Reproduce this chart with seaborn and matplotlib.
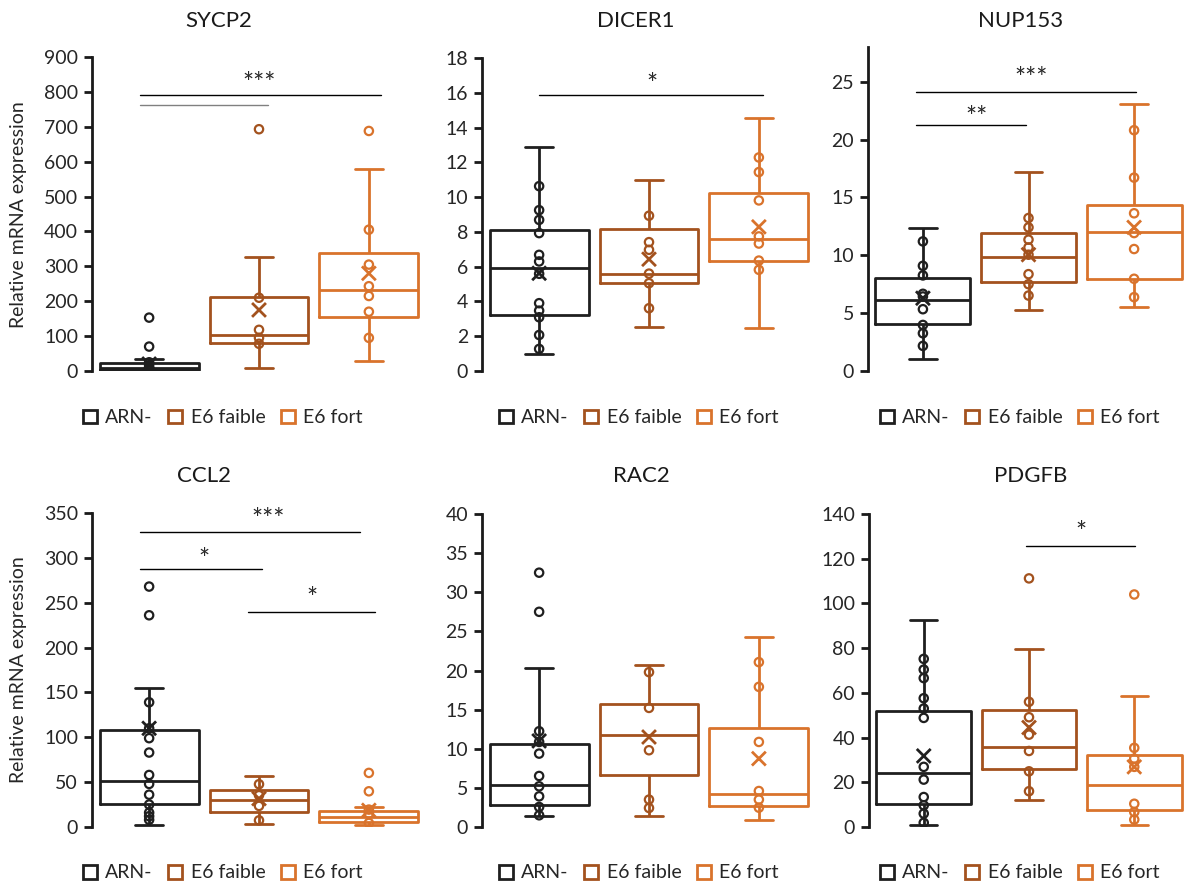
import numpy as np
import pandas as pd
import matplotlib
matplotlib.use('Agg')
import matplotlib.pyplot as plt
from matplotlib.patches import Patch
import seaborn as sns

sns.set_style('white')
plt.rcParams['font.family'] = ['Lato', 'DejaVu Sans']

groups = ['ARN-', 'E6 faible', 'E6 fort']
colors = ['#1f1f1f', '#a3521e', '#d9732c']

# box summaries: whisker low, q1, median, q3, whisker high
sycp2_box = [[1, 4, 10, 22, 33], [10, 79, 102, 211, 326], [30, 154, 232, 339, 579]]
sycp2_mean = [20, 175, 280]
sycp2_pts = [[153, 70, 25, 15, 8, 3, 1],
             [693, 210, 118, 95, 78],
             [688, 405, 305, 243, 215, 170, 95]]

dicer1_box = [[1.0, 3.2, 5.9, 8.08, 12.88], [2.53, 5.05, 5.6, 8.16, 10.96], [2.5, 6.3, 7.6, 10.23, 14.53]]
dicer1_mean = [5.62, 6.43, 8.29]
dicer1_pts = [[10.63, 9.25, 8.69, 7.93, 6.68, 6.3, 5.59, 3.9, 3.47, 3.09, 2.07, 1.27],
              [8.93, 7.41, 6.97, 5.6, 5.05, 3.61],
              [12.28, 11.44, 9.81, 7.74, 7.33, 6.35, 5.82]]

nup153_box = [[1.01, 4.07, 6.15, 8.03, 12.36], [5.23, 7.68, 9.87, 11.92, 17.18], [5.57, 7.97, 12.01, 14.35, 23.04]]
nup153_mean = [6.29, 10.05, 12.41]
nup153_pts = [[11.2, 9.09, 8.26, 6.67, 6.44, 5.34, 3.98, 3.26, 2.17],
              [13.22, 12.41, 11.35, 10.68, 10.05, 8.37, 7.5, 6.52],
              [20.81, 16.71, 13.63, 11.92, 10.54, 7.97, 6.38]]

ccl2_box = [[1.9, 26, 51, 108, 154.5], [3.7, 16.8, 29.8, 41, 57], [1.9, 5.6, 11.2, 17.9, 22.3]]
ccl2_mean = [110, 31.6, 18.6]
ccl2_pts = [[268, 236, 139, 110, 99, 83, 58, 48, 36, 25, 16, 12, 8],
            [47.7, 35.4, 23.5, 7.4],
            [60.3, 39.8, 19.4, 14.9, 4.5]]

rac2_box = [[1.41, 2.77, 5.33, 10.58, 20.38], [1.41, 6.7, 11.81, 15.78, 20.68], [0.94, 2.69, 4.26, 12.66, 24.3]]
rac2_mean = [11.0, 11.5, 8.74]
rac2_pts = [[32.5, 27.5, 12.24, 10.87, 9.38, 6.52, 5.2, 3.92, 2.56, 1.5],
            [19.79, 15.22, 9.81, 3.5, 2.43],
            [21.07, 17.91, 10.87, 4.6, 3.5, 2.47]]

pdgfb_box = [[1.04, 10.4, 24.2, 51.9, 92.8], [11.9, 26.1, 35.8, 52.2, 79.6], [1.04, 7.46, 18.66, 32.4, 58.8]]
pdgfb_mean = [31.8, 44.5, 26.9]
pdgfb_pts = [[75.2, 70.4, 66.6, 57.6, 53, 48.8, 26.9, 21.2, 13.4, 9.7, 6, 1.9],
             [111.2, 56, 49.1, 41.3, 34, 24.9, 16],
             [104, 35.4, 30.6, 26.9, 10.4, 6.7, 3.3]]

genes = ['SYCP2', 'DICER1', 'NUP153', 'CCL2', 'RAC2', 'PDGFB']
boxes = [sycp2_box, dicer1_box, nup153_box, ccl2_box, rac2_box, pdgfb_box]
means = [sycp2_mean, dicer1_mean, nup153_mean, ccl2_mean, rac2_mean, pdgfb_mean]
points = [sycp2_pts, dicer1_pts, nup153_pts, ccl2_pts, rac2_pts, pdgfb_pts]
ymax = [900, 18, 28, 350, 40, 140]
ystep = [100, 2, 5, 50, 5, 20]

# significance bars: (x start, x end, y, colour) and star labels (x, y, text)
sig_lines = [
    [(-0.08, 2.11, 791, 'black'), (-0.08, 1.08, 762, 'grey')],
    [(0.0, 2.04, 15.87, 'black')],
    [(-0.07, 2.02, 24.1, 'black'), (-0.07, 0.98, 21.3, 'black')],
    [(-0.08, 1.92, 329, 'black'), (-0.08, 1.03, 287.6, 'black'), (0.9, 2.06, 239.7, 'black')],
    [],
    [(0.97, 2.01, 125.7, 'black')],
]
sig_text = [
    [(1.0, 840, '***')],
    [(1.03, 16.8, '*')],
    [(1.02, 25.8, '***'), (0.51, 22.4, '**')],
    [(1.08, 350, '***'), (0.5, 305, '*'), (1.48, 261, '*')],
    [],
    [(1.49, 134.6, '*')],
]

W, H = 1189, 885
fig = plt.figure(figsize=(W / 100, H / 100), dpi=100)

# axes boxes in pixels: left, top, right, bottom
ax_px = [(92, 57, 426, 371), (482, 58, 816, 371), (868, 47, 1189, 371),
         (92, 513, 426, 827), (482, 514, 816, 827), (869, 514, 1189, 827)]
title_px = [(219, 21), (636, 21), (1021, 21), (204, 476), (641, 476), (1031, 476)]
legend_px = [(223, 418), (639, 418), (1020, 418), (223, 873), (639, 873), (1020, 873)]

for i, gene in enumerate(genes):
    l, t, r, b = ax_px[i]
    ax = fig.add_axes([l / W, 1 - b / H, (r - l) / W, (b - t) / H])

    box_df = pd.DataFrame([(g, v) for g, vals in zip(groups, boxes[i]) for v in vals],
                          columns=['group', 'value'])
    pts_df = pd.DataFrame([(g, v) for g, vals in zip(groups, points[i]) for v in vals],
                          columns=['group', 'value'])
    mean_df = pd.DataFrame({'group': groups, 'value': means[i]})

    sns.boxplot(data=box_df, x='group', y='value', hue='group', order=groups,
                hue_order=groups, palette=colors, fill=False, whis=np.inf,
                width=0.9, linewidth=2, legend=False, ax=ax, capwidths=0.26)

    n0 = len(ax.collections)
    sns.stripplot(data=pts_df, x='group', y='value', hue='group', order=groups,
                  hue_order=groups, palette=colors, jitter=False, size=6,
                  linewidth=1.6, legend=False, ax=ax)
    sns.stripplot(data=mean_df, x='group', y='value', hue='group', order=groups,
                  hue_order=groups, palette=colors, jitter=False, size=10,
                  marker='x', linewidth=2, legend=False, ax=ax)
    # hollow circles like the original
    for coll in ax.collections[n0:]:
        fc = coll.get_facecolors()
        coll.set_edgecolors(fc)
        coll.set_facecolors('none')
        coll.set_zorder(4)

    for x0, x1, y, c in sig_lines[i]:
        ax.plot([x0, x1], [y, y], color=c, lw=1)
    for x, y, s in sig_text[i]:
        ax.annotate(s, (x, y), xytext=(0, -7), textcoords='offset pixels',
                    ha='center', va='center', fontsize=19, color='#262626')

    ax.set_xlim(-0.52, 2.52)
    ax.set_ylim(0, ymax[i])
    ax.set_yticks(np.arange(0, ymax[i] + 0.1, ystep[i]))
    ax.set_xticks([])
    ax.set_xlabel('')
    ax.set_ylabel('')
    for s in ['top', 'right', 'bottom']:
        ax.spines[s].set_visible(False)
    ax.spines['left'].set_linewidth(2)
    ax.spines['left'].set_color('#1a1a1a')
    ax.tick_params(axis='y', left=True, direction='out', length=6, width=2,
                   color='#1a1a1a', labelsize=14, labelcolor='#262626', pad=4)
    ax.patch.set_alpha(0)

    fig.text(title_px[i][0] / W, 1 - title_px[i][1] / H, gene, ha='center',
             va='center', fontsize=16, color='#1a1a1a')

    handles = [Patch(facecolor='none', edgecolor=c, linewidth=2, label=g)
               for g, c in zip(groups, colors)]
    leg = ax.legend(handles=handles, loc='center',
                    bbox_to_anchor=(legend_px[i][0] / W, 1 - legend_px[i][1] / H),
                    bbox_transform=fig.transFigure, ncol=3, frameon=False,
                    fontsize=14, handlelength=0.7, handleheight=0.7,
                    columnspacing=0.8, handletextpad=0.45)
    for txt in leg.get_texts():
        txt.set_color('#262626')

fig.text(19 / W, 1 - 215 / H, 'Relative mRNA expression', rotation=90,
         ha='center', va='center', fontsize=14, color='#262626')
fig.text(19 / W, 1 - 670 / H, 'Relative mRNA expression', rotation=90,
         ha='center', va='center', fontsize=14, color='#262626')

fig.savefig('out.png', dpi=100)
